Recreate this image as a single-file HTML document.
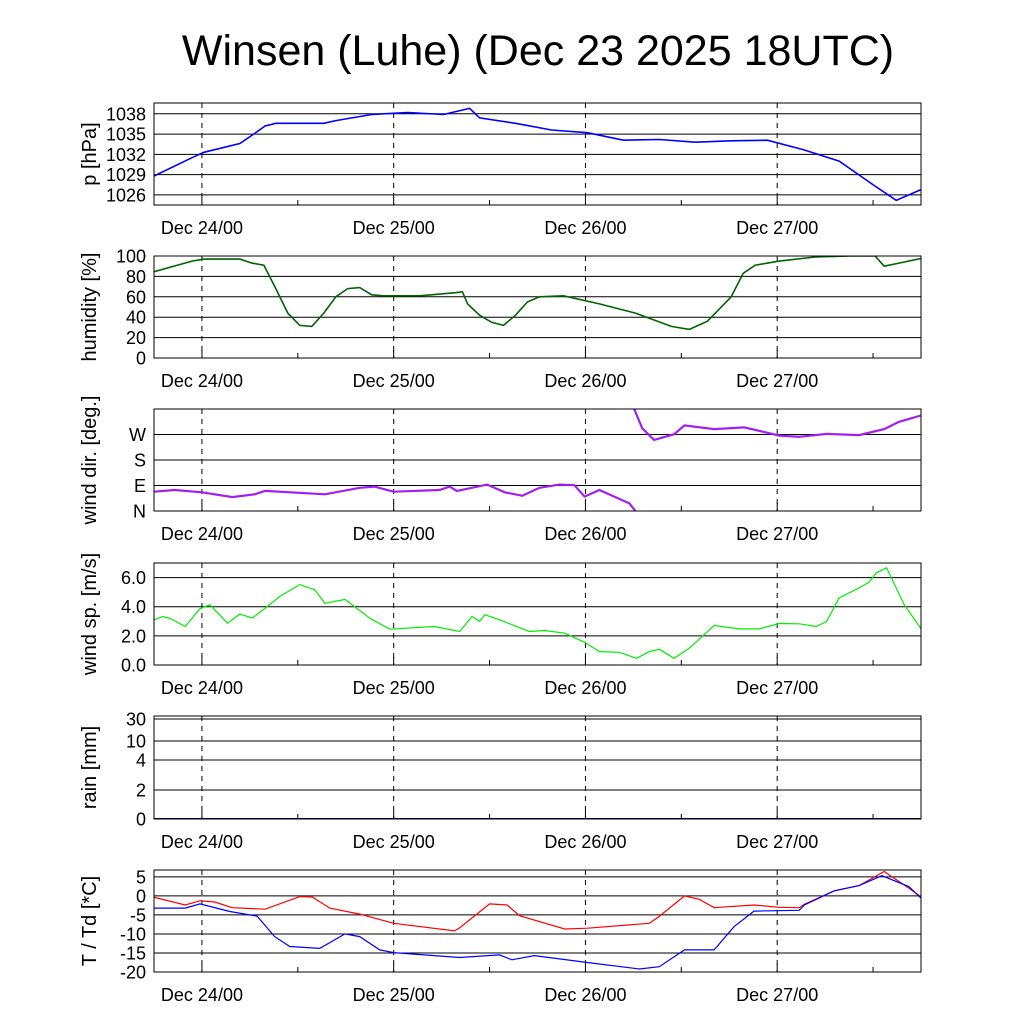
<!DOCTYPE html>
<html><head><meta charset="utf-8"><style>
body{margin:0;background:#fff}
svg{font-family:"Liberation Sans",sans-serif}
</style></head><body>
<svg id="chart" width="1024" height="1024" viewBox="0 0 1024 1024">
<text x="538" y="65" font-size="43" text-anchor="middle">Winsen (Luhe) (Dec 23 2025 18UTC)</text>
</svg>
<script>
const dayLabels = ["Dec 24/00","Dec 25/00","Dec 26/00","Dec 27/00"];
const dayHours = [6,30,54,78];
const presHours = [0,4.75,6.25,10.75,12.6,13.9,15.25,18.25,21.25,22.75,27.25,31.75,36.25,39.5,40.75,45.25,49.75,54.25,58.75,63.25,67.75,72.25,76.75,81.25,85.75,90.25,92.9,96.25];
const presVals = [1028.8,1031.5,1032.3,1033.6,1035.1,1036.2,1036.6,1036.6,1036.6,1037.0,1037.9,1038.2,1037.9,1038.8,1037.4,1036.6,1035.6,1035.2,1034.1,1034.2,1033.8,1034.0,1034.1,1032.7,1031.0,1027.3,1025.2,1026.9];
const humHours = [0,4.75,6.25,10.75,12.25,13.75,15.25,16.75,18.25,19.75,21.25,22.75,24.25,25.75,27.25,28.75,33.25,37.75,38.6,39.25,40.75,42.25,43.75,45.25,46.75,48.25,51.25,55.75,60.25,64.75,67,69.25,72.25,73.75,75.25,78.25,82.75,87.25,90.25,91.4,93.25,96.25];
const humVals = [84.6,95,97,97,93,91,68,44,32,31,44,60,68,69,62,61,61,64,65,53,42,35,32,42,55,60,61,53,44,31,28,36,60,83,91,95,99,100,100,90,93,98];
const dir1Hours = [0,2.6,6,9.8,12.6,13.9,21.4,25.75,27.6,30,35.75,37,37.9,41.7,43.9,46.1,48.25,50.75,52.6,53.9,55.75,57.6,59.5,60.25];
const dir1Vals = [68,74,66,49,59,71,59,82,86,68,74,86,71,93,66,54,82,93,91,51,74,51,27,0];
const dir2Hours = [60.1,61.1,62.6,65.1,66.4,70.1,73.9,78.25,80.75,84.2,88.25,91.4,93.25,96.25];
const dir2Vals = [360,292,251,271,302,289,295,266,262,272,268,289,315,339];
const windHours = [0,1.1,2,3.9,5.75,7,9.2,10.75,12.3,14.2,15.75,18.25,20.1,21.4,23.9,27,29.5,35.1,38.25,39.8,40.75,41.4,43.25,47,48.9,51.4,53.9,55.75,58.25,60.4,62,63.25,65.1,67,70.1,73.25,75.75,78.25,80.75,82.9,84.2,85.75,88.25,89.5,90.4,91.7,93.9,96.25];
const windVals = [3.1,3.33,3.2,2.64,3.86,4.14,2.87,3.49,3.22,4.02,4.71,5.52,5.17,4.23,4.5,3.22,2.46,2.64,2.3,3.33,3.0,3.45,3.1,2.3,2.37,2.18,1.56,0.92,0.87,0.46,0.92,1.08,0.46,1.15,2.71,2.48,2.48,2.85,2.83,2.64,2.99,4.6,5.29,5.68,6.32,6.67,4.14,2.3];
const rainHours = [0,96.25];
const rainVals = [0,0];
const tHours = [0,3.9,5.75,7.6,9.8,13.9,18.25,19.8,22,25.75,30,37.6,38.25,42,44.2,45.75,51.4,54.25,62,63.25,66.4,68.25,70.1,75.1,78.25,80.75,81.4,85.1,88.25,91.4,94.5,96.25];
const tVals = [-0.35,-2.4,-1.3,-1.6,-3.1,-3.5,-0.2,-0.3,-3.2,-4.8,-7.2,-9.2,-8.4,-2.1,-2.4,-5.2,-8.7,-8.5,-7.2,-5.4,0,-0.9,-3.1,-2.4,-3.0,-3.1,-2.2,1.3,2.7,6.4,2.0,-0.6];
const tdHours = [0,3.9,5.75,9.5,12.9,15.1,17,20.75,23.9,25.75,28.25,30,38.25,43.25,44.8,47.6,54.25,60.75,63.25,66.4,70.1,72.6,75.1,80.75,81.4,85.1,88.25,91.1,94.5,96.25];
const tdVals = [-3.2,-3.2,-2.1,-4.1,-5.3,-10.7,-13.3,-13.8,-10,-10.7,-14.2,-14.9,-16.2,-15.5,-16.8,-15.7,-17.5,-19.2,-18.6,-14.2,-14.2,-8.1,-4.0,-3.8,-2.4,1.3,2.7,5.3,2.4,-1.1];

const svg = document.getElementById('chart');
const NS = 'http://www.w3.org/2000/svg';
const X0 = 154, X1 = 921, HMAX = 96;
function xs(h){ return X0 + h*(X1-X0)/HMAX; }
function mk(tag, attrs, parent){
  const e = document.createElementNS(NS, tag);
  for (const k in attrs) e.setAttribute(k, attrs[k]);
  (parent||svg).appendChild(e);
  return e;
}
function linY(top,bot,vmin,vmax){ return v => bot - (v-vmin)/(vmax-vmin)*(bot-top); }
function rainY(v){ const vs=[0,2,4,10,30], ps=[819,790,760,741,719];
  for(let i=0;i<vs.length-1;i++){ if(v<=vs[i+1]) return ps[i]+(v-vs[i])/(vs[i+1]-vs[i])*(ps[i+1]-ps[i]); } return 716; }

const panels = [
 {name:'pressure', top:103, bot:205, label:'p [hPa]', y:linY(103,205,1024.5,1039.6), ticks:[1026,1029,1032,1035,1038], tl:['1026','1029','1032','1035','1038'], series:[[presHours,presVals,'#0000ff',1.6]]},
 {name:'humidity', top:256, bot:358, label:'humidity [%]', y:linY(256,358,0,100), ticks:[0,20,40,60,80,100], tl:['0','20','40','60','80','100'], series:[[humHours,humVals,'#006400',1.6]]},
 {name:'wind-direction', top:409, bot:511, label:'wind dir. [deg.]', y:linY(409,511,0,360), ticks:[0,90,180,270], tl:['N','E','S','W'], series:[[dir1Hours,dir1Vals,'#a020f0',2.2],[dir2Hours,dir2Vals,'#a020f0',2.2]]},
 {name:'wind-speed', top:563, bot:665, label:'wind sp. [m/s]', y:linY(563,665,0,7), ticks:[0,2,4,6], tl:['0.0','2.0','4.0','6.0'], series:[[windHours,windVals,'#00ee00',1.2]]},
 {name:'rain', top:716, bot:819, label:'rain [mm]', y:rainY, ticks:[0,2,4,10,30], tl:['0','2','4','10','30'], series:[[rainHours,rainVals,'#00008b',2]]},
 {name:'temperature', top:870, bot:972, label:'T / Td [*C]', y:linY(870,972,-20,6.8), ticks:[-20,-15,-10,-5,0,5], tl:['-20','-15','-10','-5','0','5'], series:[[tHours,tVals,'#ff0000',1.2],[tdHours,tdVals,'#0000ff',1.2]]}
];

panels.forEach((p,pi)=>{
  const g = mk('g',{});
  
  
  const cid='clip'+pi;
  const cp = mk('clipPath',{id:cid},g);
  mk('rect',{x:X0,y:p.top,width:X1-X0,height:p.bot-p.top},cp);
  p.ticks.forEach((t,i)=>{
    const y=p.y(t);
    const gl = mk('line',{x1:X0,x2:X1,y1:y,y2:y,stroke:'#000','stroke-width':1},g);
    
    
    const tx = mk('text',{x:X0-8,y:y+6.5,'font-size':18,'text-anchor':'end'},g);
    tx.textContent = p.tl[i];
    
    
  });
  dayHours.forEach((h,i)=>{
    const x=xs(h);
    const dl = mk('line',{x1:x,x2:x,y1:p.top,y2:p.bot,stroke:'#000','stroke-width':1,'stroke-dasharray':'5,5'},g);
    
    
    mk('line',{x1:x,x2:x,y1:p.bot-8,y2:p.bot,stroke:'#000'},g);
    const lt = mk('text',{x:x,y:p.bot+29,'font-size':18,'text-anchor':'middle'},g);
    lt.textContent = dayLabels[i];
    
    
  });
  [18,42,66,90].forEach(h=>{ mk('line',{x1:xs(h),x2:xs(h),y1:p.bot-5,y2:p.bot,stroke:'#000'},g); });
  p.series.forEach(s=>{
    const [hs,vs,col,w]=s;
    const d = hs.map((h,i)=>(i?'L':'M')+xs(h).toFixed(1)+','+p.y(vs[i]).toFixed(1)).join('');
    const pa = mk('path',{d:d,fill:'none',stroke:col,'stroke-width':w,'clip-path':'url(#'+cid+')'},g);
    
    
  });
  const fr = mk('rect',{x:X0,y:p.top,width:X1-X0,height:p.bot-p.top,fill:'none',stroke:'#000','stroke-width':1},g);
  
  
  const cy=(p.top+p.bot)/2;
  const yl = mk('text',{x:0,y:0,'font-size':20,'text-anchor':'middle',transform:'translate(96,'+cy+') rotate(-90)'},g);
  yl.textContent = p.label;
  
  
});
</script>
</body></html>
